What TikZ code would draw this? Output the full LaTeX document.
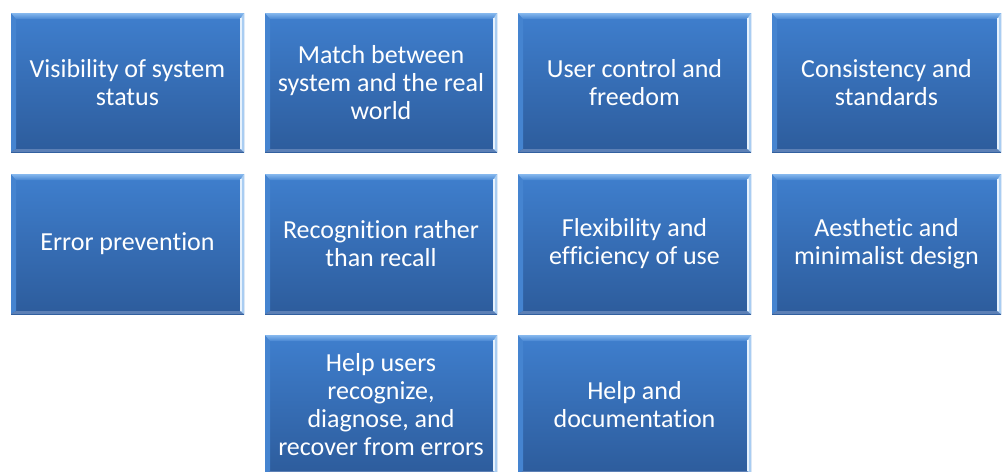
\documentclass[tikz,border=0pt]{standalone}
\usepackage{fontspec}
\setmainfont{Carlito}[Ligatures=NoCommon]
\usetikzlibrary{calc}
\definecolor{tileTop}{HTML}{3F7FCE}
\definecolor{tileBot}{HTML}{2D5C9C}
\definecolor{bevTopA}{HTML}{86B8EE}
\definecolor{bevTopB}{HTML}{4786D2}
\definecolor{bevLeft}{HTML}{4584D0}
\definecolor{bevRight}{HTML}{A9CDF2}
\definecolor{bevRightLine}{HTML}{E6F1FC}
\definecolor{bevBot}{HTML}{5C80B6}
\tikzset{
  tile/.style={
    minimum width=233pt, minimum height=139pt, inner sep=0pt,
    top color=tileTop, bottom color=tileBot, text=white,
    align=center, font=\fontsize{26}{28}\selectfont,
    path picture={
      \coordinate (pnw) at (path picture bounding box.north west);
      \coordinate (pne) at (path picture bounding box.north east);
      \coordinate (psw) at (path picture bounding box.south west);
      \coordinate (pse) at (path picture bounding box.south east);
      % left bevel
      \fill[bevLeft] (pnw) -- ($(pnw)+(5pt,-6pt)$) -- ($(psw)+(5pt,3pt)$) -- (psw) -- cycle;
      % bottom bevel
      \fill[bevBot] (psw) -- ($(psw)+(5pt,3pt)$) -- ($(pse)+(-4pt,3pt)$) -- (pse) -- cycle;
      % top bevel
      \shade[top color=bevTopA, bottom color=bevTopB]
        (pnw) -- (pne) -- ($(pne)+(-4pt,-6pt)$) -- ($(pnw)+(5pt,-6pt)$) -- cycle;
      % right bevel with its highlight
      \fill[bevRight] (pne) -- ($(pne)+(-4pt,-6pt)$) -- ($(pse)+(-4pt,3pt)$) -- (pse) -- cycle;
      \draw[bevRightLine, line width=1.2pt]
        ($(pne)+(-3pt,-5pt)$) -- ($(pse)+(-3pt,3pt)$);
    }
  }
}
\begin{document}
\begin{tikzpicture}[x=1pt, y=-1pt]
  \useasboundingbox (0,0) rectangle (1003,471);
  \clip (0,0) rectangle (1003,471);
  % first row
  \node[tile] (vis) at (127.5,82.5) {Visibility of system\\status};
  \node[tile, minimum width=232pt] (match) at (381,82.5) {Match between\\system and the real\\world};
  \node[tile] (ctrl) at (634.5,82.5) {User control and\\freedom};
  \node[tile, minimum width=229pt] (cons) at (886.5,82.5) {Consistency and\\standards};
  % second row
  \node[tile, minimum height=140pt] (err) at (127.5,244) {Error prevention};
  \node[tile, minimum width=232pt, minimum height=140pt] (recog) at (381,244) {Recognition rather\\than recall};
  \node[tile, minimum height=140pt] (flex) at (634.5,244) {Flexibility and\\efficiency of use};
  \node[tile, minimum width=229pt, minimum height=140pt] (aes) at (886.5,244) {Aesthetic and\\minimalist design};
  % third row
  \node[tile, minimum width=232pt] (help) at (381,404.5) {Help users\\recognize,\\diagnose, and\\recover from errors};
  \node[tile] (docs) at (634.5,404.5) {Help and\\documentation};
\end{tikzpicture}
\end{document}
